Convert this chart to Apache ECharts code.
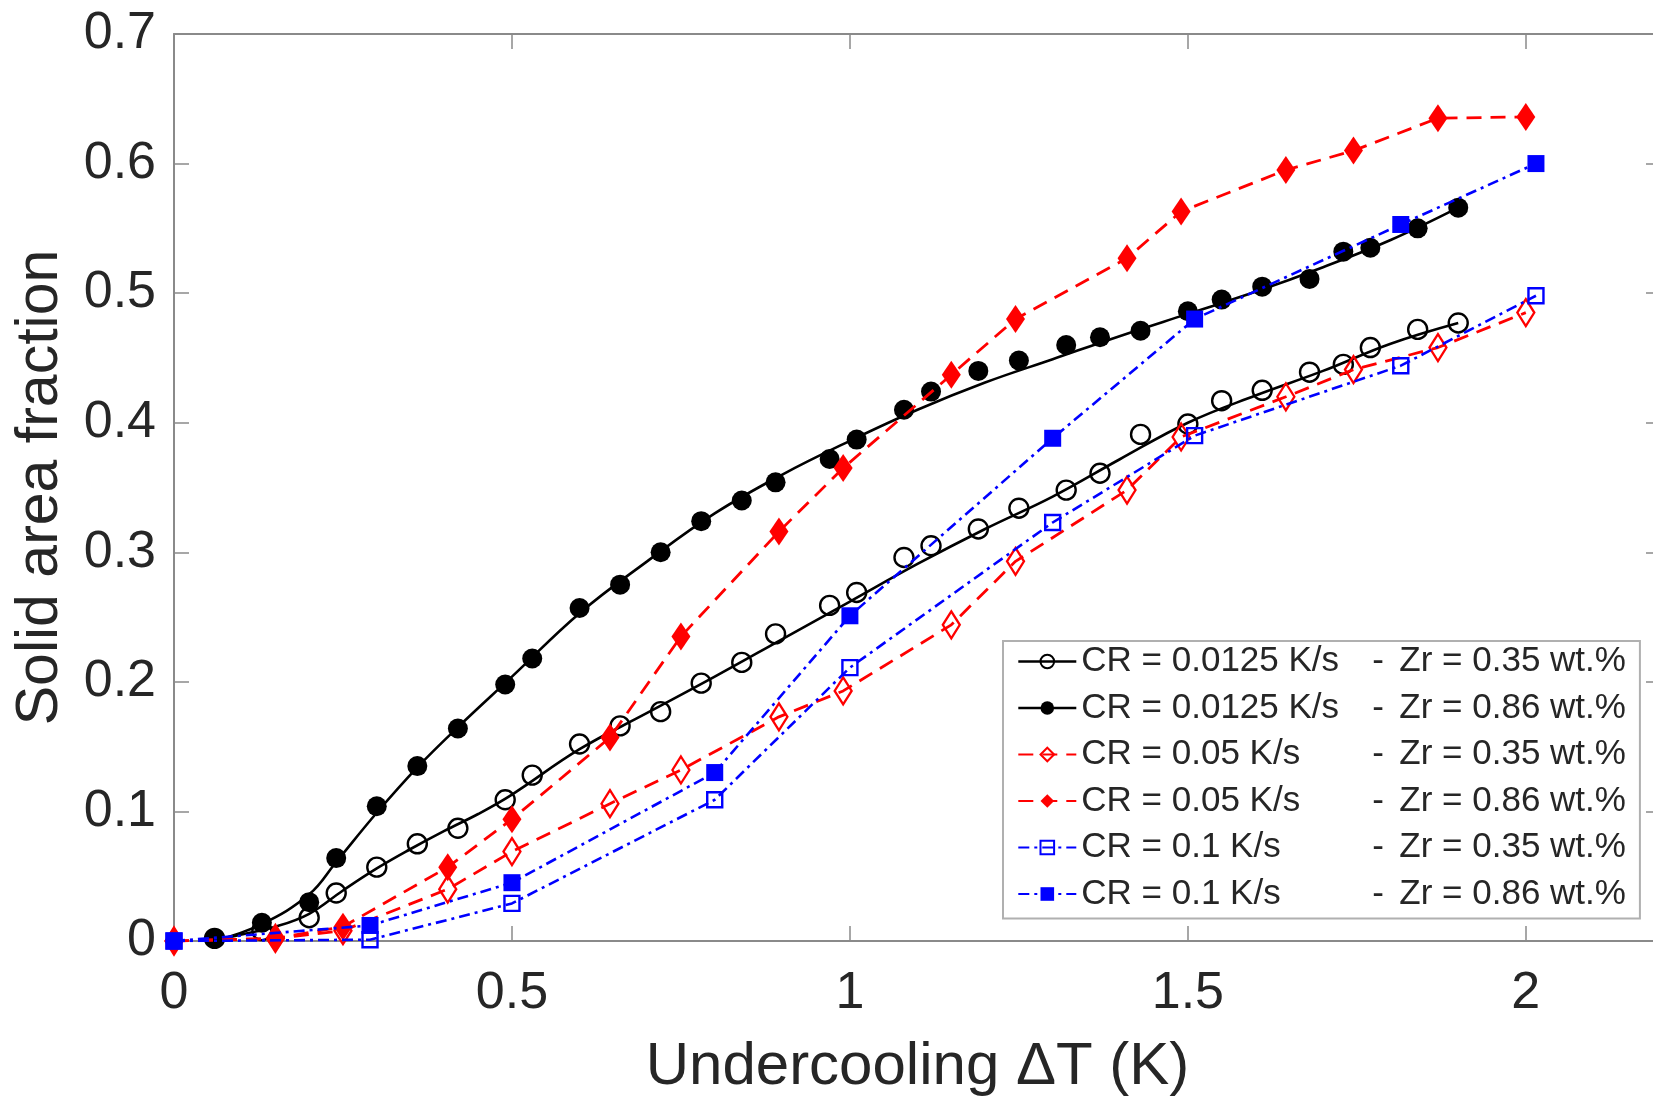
<!DOCTYPE html>
<html>
<head>
<meta charset="utf-8">
<script src="https://cdn.jsdelivr.net/npm/echarts@6/dist/echarts.min.js"></script>
<style>html,body{margin:0;padding:0;background:#fff}#c{width:1653px;height:1100px}</style>
</head>
<body>
<div id="c"></div>
<script>
// ---- data ----
const xBlack = [0.06,0.13,0.20,0.24,0.30,0.36,0.42,0.49,0.53,0.60,0.66,0.72,0.78,0.84,0.89,0.97,1.01,1.08,1.12,1.19,1.25,1.32,1.37,1.43,1.50,1.55,1.61,1.68,1.73,1.77,1.84,1.90];
const yBlackOpen = [0.002,0.008,0.018,0.037,0.057,0.075,0.087,0.109,0.128,0.152,0.166,0.177,0.199,0.215,0.237,0.259,0.269,0.296,0.305,0.318,0.334,0.348,0.361,0.391,0.399,0.417,0.425,0.439,0.445,0.458,0.472,0.477];
const yBlackFilled = [0.002,0.014,0.030,0.064,0.104,0.135,0.164,0.198,0.218,0.257,0.275,0.300,0.324,0.340,0.354,0.372,0.387,0.410,0.424,0.440,0.448,0.460,0.466,0.471,0.486,0.495,0.505,0.511,0.532,0.535,0.550,0.566];

// fitted curves drawn through the black data
const xFitOpen = [0.06,0.10,0.15,0.20,0.25,0.30,0.35,0.40,0.45,0.50,0.60,0.70,0.80,0.90,1.00,1.10,1.20,1.30,1.40,1.50,1.60,1.70,1.80,1.90];
const fitOpen = [0.000,0.005,0.011,0.021,0.039,0.056,0.071,0.085,0.098,0.113,0.148,0.176,0.204,0.233,0.262,0.291,0.318,0.343,0.372,0.400,0.421,0.440,0.461,0.477];
const xFitFilled = [0.06,0.13,0.20,0.24,0.30,0.36,0.42,0.50,0.60,0.70,0.80,0.90,1.00,1.10,1.20,1.30,1.40,1.50,1.60,1.70,1.80,1.90];
const fitFilled = [0.000,0.013,0.036,0.061,0.099,0.134,0.165,0.204,0.253,0.293,0.330,0.360,0.386,0.410,0.431,0.449,0.467,0.484,0.501,0.520,0.541,0.566];

const xRed = [0,0.15,0.25,0.405,0.50,0.645,0.75,0.895,0.99,1.15,1.245,1.41,1.49,1.645,1.745,1.87,2.0];
const yRedOpen = [0,0.002,0.008,0.040,0.069,0.106,0.132,0.173,0.193,0.244,0.293,0.348,0.389,0.420,0.441,0.458,0.485];
const yRedFilled = [0,0.002,0.011,0.057,0.094,0.157,0.235,0.316,0.365,0.437,0.480,0.527,0.563,0.595,0.610,0.635,0.636];

const xBlue = [0,0.29,0.50,0.80,1.00,1.30,1.51,1.815,2.015];
const yBlueOpen = [0,0.001,0.029,0.109,0.211,0.323,0.390,0.444,0.498];
const yBlueFilled = [0,0.012,0.045,0.130,0.251,0.388,0.480,0.553,0.600];

const seriesNames = [
  'CR = 0.0125 K/s - Zr = 0.35 wt.%',
  'CR = 0.0125 K/s - Zr = 0.86 wt.%',
  'CR = 0.05 K/s - Zr = 0.35 wt.%',
  'CR = 0.05 K/s - Zr = 0.86 wt.%',
  'CR = 0.1 K/s - Zr = 0.35 wt.%',
  'CR = 0.1 K/s - Zr = 0.86 wt.%'
];
const xTicks = [0, 0.5, 1, 1.5, 2];
const yTicks = [0, 0.1, 0.2, 0.3, 0.4, 0.5, 0.6, 0.7];

function pairs(xs, ys){ return xs.map((x,i)=>[x, ys[i]]); }

const FONT = '"Liberation Sans", Arial, Helvetica, sans-serif';
const TXT = '#262626';
const AX = '#8a8a8a';
const NONE = 'rgba(255,255,255,0)';
const redDash = [15, 9];
const blueDash = [11, 5, 3, 5];

const chart = echarts.init(document.getElementById('c'), null, {renderer: 'canvas'});

function axisCommon(extra){
  return Object.assign({
    type: 'value',
    axisLine: {show: true, onZero: false, lineStyle: {color: AX, width: 2}},
    axisTick: {show: true, inside: true, length: 15, lineStyle: {color: AX, width: 1.5}},
    splitLine: {show: false},
  }, extra);
}

const option = {
  animation: false,
  backgroundColor: '#fff',
  textStyle: {fontFamily: FONT},
  grid: {left: 174, top: 34, right: -8, bottom: 159, containLabel: false, outerBoundsMode: 'none'},
  xAxis: [
    axisCommon({
      position: 'bottom', min: 0, max: 2.2, interval: 0.5,
      axisLabel: {show: true, fontSize: 52, color: TXT, margin: 27, fontFamily: FONT, showMaxLabel: false,
        formatter: v => xTicks.some(t => Math.abs(t - v) < 1e-9) ? String(+(+v).toFixed(1)) : ''},
      name: 'Undercooling ΔT (K)', nameLocation: 'middle', nameGap: 96,
      nameTextStyle: {fontSize: 60, color: TXT, fontFamily: FONT}
    }),
    axisCommon({position: 'top', min: 0, max: 2.2, interval: 0.5, axisLabel: {show: false}})
  ],
  yAxis: [
    axisCommon({
      position: 'left', min: 0, max: 0.7, interval: 0.1,
      axisLabel: {show: true, fontSize: 52, color: TXT, margin: 18, fontFamily: FONT,
        formatter: v => yTicks.some(t => Math.abs(t - v) < 1e-9) ? String(+(+v).toFixed(1)) : ''},
      name: 'Solid area fraction', nameLocation: 'middle', nameGap: 104,
      nameTextStyle: {fontSize: 59, color: TXT, fontFamily: FONT}
    }),
    axisCommon({position: 'right', min: 0, max: 0.7, interval: 0.1, axisLabel: {show: false}})
  ],
  legend: {
    orient: 'vertical', left: 1003, top: 641,
    backgroundColor: '#fff', borderColor: '#b0b0b0', borderWidth: 2, borderRadius: 0,
    padding: [3, 14, 7, 14], itemGap: 11.5, itemWidth: 58, itemHeight: 17,
    data: [
      {name: seriesNames[0], lineStyle: {color: '#000', width: 2.6, type: 'solid', opacity: 1}},
      {name: seriesNames[1], lineStyle: {color: '#000', width: 2.6, type: 'solid', opacity: 1}},
      {name: seriesNames[2]}, {name: seriesNames[3]}, {name: seriesNames[4]}, {name: seriesNames[5]}
    ],
    formatter: name => {
      const p = name.split(' - ');
      return '{a|' + p[0] + '}{b|-}{c|' + p[1] + '}';
    },
    textStyle: {
      fontSize: 35, color: TXT, fontFamily: FONT,
      rich: {
        a: {fontSize: 35, width: 291, color: TXT, fontFamily: FONT, lineHeight: 35},
        b: {fontSize: 35, width: 27, color: TXT, fontFamily: FONT, lineHeight: 35},
        c: {fontSize: 35, color: TXT, fontFamily: FONT, lineHeight: 35}
      }
    }
  },
  series: [
    // fitted lines (not in legend)
    {type: 'line', name: 'fit1', data: pairs(xFitOpen, fitOpen), smooth: 0.4, showSymbol: false, symbol: 'none',
      lineStyle: {color: '#000', width: 2.6}, silent: true, z: 2},
    {type: 'line', name: 'fit2', data: pairs(xFitFilled, fitFilled), smooth: 0.4, showSymbol: false, symbol: 'none',
      lineStyle: {color: '#000', width: 2.6}, silent: true, z: 2},
    {type: 'line', name: seriesNames[0], data: pairs(xBlack, yBlackOpen),
      symbol: 'circle', symbolSize: 19,
      itemStyle: {color: NONE, borderColor: '#000', borderWidth: 2.4},
      lineStyle: {color: '#000', width: 0, opacity: 0}, z: 3},
    {type: 'line', name: seriesNames[1], data: pairs(xBlack, yBlackFilled),
      symbol: 'circle', symbolSize: 20,
      itemStyle: {color: '#000', borderColor: '#000', borderWidth: 0},
      lineStyle: {color: '#000', width: 0, opacity: 0}, z: 3},
    {type: 'line', name: seriesNames[2], data: pairs(xRed, yRedOpen),
      symbol: 'diamond', symbolSize: [17, 27],
      itemStyle: {color: NONE, borderColor: '#ff0000', borderWidth: 2.4},
      lineStyle: {color: '#ff0000', width: 2.8, type: redDash}, z: 4},
    {type: 'line', name: seriesNames[3], data: pairs(xRed, yRedFilled),
      symbol: 'diamond', symbolSize: [19, 28],
      itemStyle: {color: '#ff0000', borderColor: '#ff0000', borderWidth: 0},
      lineStyle: {color: '#ff0000', width: 2.8, type: redDash}, z: 4},
    {type: 'line', name: seriesNames[4], data: pairs(xBlue, yBlueOpen),
      symbol: 'rect', symbolSize: 15,
      itemStyle: {color: NONE, borderColor: '#0000ff', borderWidth: 2.4},
      lineStyle: {color: '#0000ff', width: 2.6, type: blueDash}, z: 5},
    {type: 'line', name: seriesNames[5], data: pairs(xBlue, yBlueFilled),
      symbol: 'rect', symbolSize: 17,
      itemStyle: {color: '#0000ff', borderColor: '#0000ff', borderWidth: 0},
      lineStyle: {color: '#0000ff', width: 2.6, type: blueDash}, z: 5}
  ]
};
chart.setOption(option);
</script>
</body>
</html>
